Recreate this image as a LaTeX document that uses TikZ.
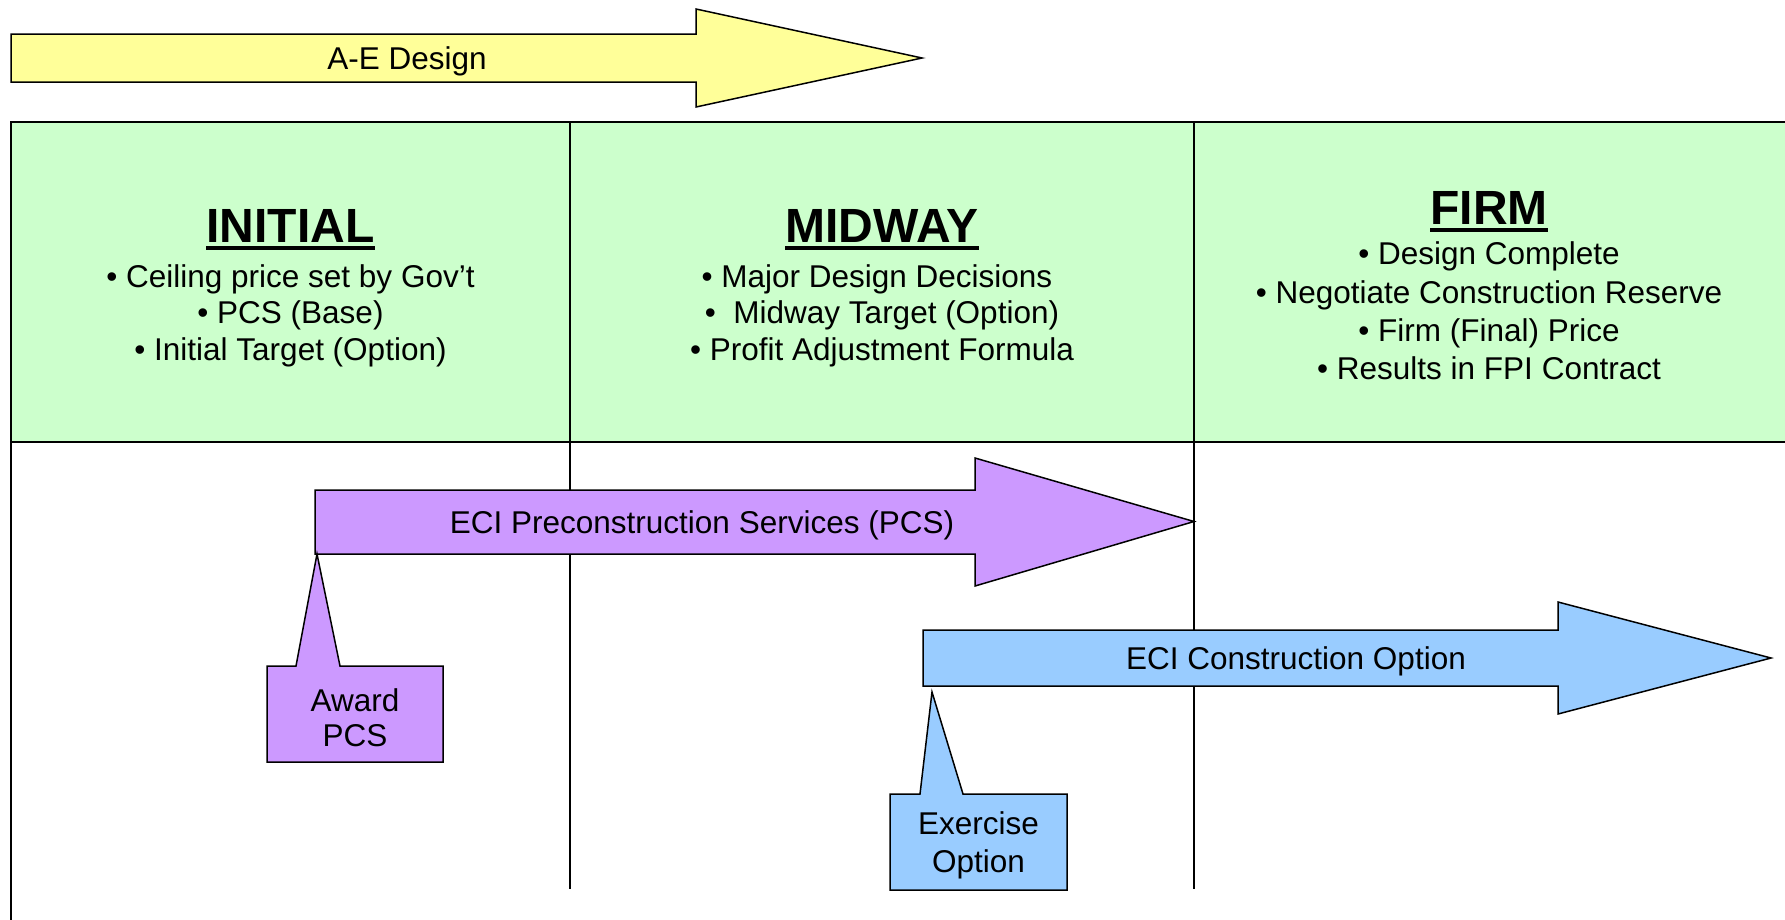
\documentclass[tikz,border=0pt]{standalone}
\usepackage{fontspec}
\setmainfont{Liberation Sans}
\definecolor{aeyellow}{HTML}{FFFF99}
\definecolor{hdrgreen}{HTML}{CCFFCC}
\definecolor{pcspurple}{HTML}{CC99FF}
\definecolor{optblue}{HTML}{99CCFF}
\begin{document}
\begin{tikzpicture}[x=1pt,y=-1pt,
  body/.style={font=\fontsize{31.5}{37.5}\selectfont, inner sep=0pt, anchor=base},
  ttl/.style={font=\fontsize{48}{56}\selectfont\bfseries, inner sep=0pt, anchor=base},
  ul/.style={line width=3.5pt},
  outline/.style={draw=black, line width=1.5pt, line join=miter},
  gridline/.style={line width=2pt},
  thinline/.style={line width=1.2pt}]
\useasboundingbox (0,0) rectangle (1785,919);
\clip (0,0) rectangle (1785,919);
\fill[white] (0,0) rectangle (1785,919);

% header band
\fill[hdrgreen] (11,122) rectangle (1795,442);
\draw[gridline] (1795,122) -- (11,122) -- (11,925);
\draw[gridline] (11,442) -- (1795,442);
\draw[gridline] (570,122) -- (570,442);
\draw[gridline] (1194,122) -- (1194,442);
\draw[thinline] (570,442) -- (570,889);
\draw[thinline] (1194,442) -- (1194,889);

% A-E design arrow
\draw[outline, fill=aeyellow] (11,34) -- (696,34) -- (696,9) -- (922,58) -- (696,107) -- (696,82) -- (11,82) -- cycle;
\node[body] (ae) at (407,69) {A-E Design};

% INITIAL
\node[ttl] (ti) at (290.5,242) {INITIAL};
\draw[ul] ([yshift=-6pt]ti.base west) -- ([yshift=-6pt]ti.base east);
\node[body] (i1) at (290.5,287) {• Ceiling price set by Gov’t};
\node[body] (i2) at (290.5,323) {• PCS (Base)};
\node[body] (i3) at (290.5,360) {• Initial Target (Option)};

% MIDWAY
\node[ttl] (tm) at (882,242) {MIDWAY};
\draw[ul] ([yshift=-6pt]tm.base west) -- ([yshift=-6pt]tm.base east);
\node[body] (m1) at (877,287) {• Major Design Decisions};
\node[body] (m2) at (882,323) {•~ Midway Target (Option)};
\node[body] (m3) at (882,360) {• Profit Adjustment Formula};

% FIRM
\node[ttl] (tf) at (1489,224) {FIRM};
\draw[ul] ([yshift=-6pt]tf.base west) -- ([yshift=-6pt]tf.base east);
\node[body] (f1) at (1489,264) {• Design Complete};
\node[body] (f2) at (1489,303) {• Negotiate Construction Reserve};
\node[body] (f3) at (1489,341) {• Firm (Final) Price};
\node[body] (f4) at (1489,379) {• Results in FPI Contract};

% PCS arrow
\draw[outline, fill=pcspurple] (315,490) -- (975,490) -- (975,458) -- (1194,521.5) -- (975,586) -- (975,554) -- (315,554) -- cycle;
\node[body] (pcs) at (702,533) {ECI Preconstruction Services (PCS)};

% Construction option arrow
\draw[outline, fill=optblue] (923,630) -- (1558,630) -- (1558,602) -- (1771,658) -- (1558,714) -- (1558,686) -- (923,686) -- cycle;
\node[body] (opt) at (1296,669) {ECI Construction Option};

% Award PCS callout
\draw[outline, fill=pcspurple] (267,666) -- (296,666) -- (317,554) -- (340,666) -- (443,666) -- (443,762) -- (267,762) -- cycle;
\node[body] (aw1) at (355,711) {Award};
\node[body] (aw2) at (355,746) {PCS};

% Exercise Option callout
\draw[outline, fill=optblue] (890,794) -- (920,794) -- (932,692) -- (963,794) -- (1067,794) -- (1067,890) -- (890,890) -- cycle;
\node[body] (ex1) at (978.5,834) {Exercise};
\node[body] (ex2) at (978.5,872) {Option};
\end{tikzpicture}
\end{document}
